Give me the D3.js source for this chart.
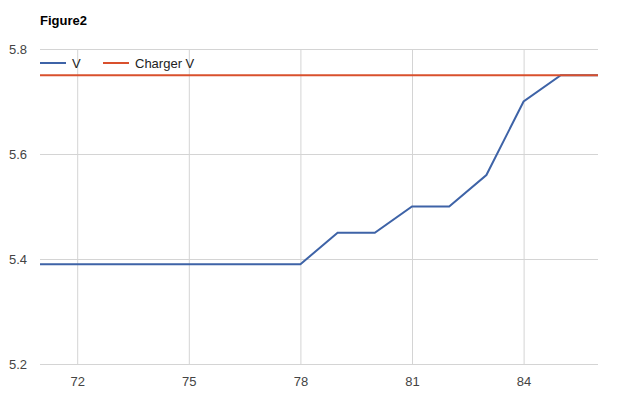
<!DOCTYPE html>
<html>
<head>
<meta charset="utf-8">
<script src="https://cdn.jsdelivr.net/npm/d3@7"></script>
<style>
  body { margin: 0; background: #fff; }
  text { font-family: Arial, "Liberation Sans", sans-serif; }
</style>
</head>
<body>
<svg width="620" height="401"></svg>
<script>
// chart data
const xs = [71, 72, 73, 74, 75, 76, 77, 78, 79, 80, 81, 82, 83, 84, 85, 86];
const vValues = [5.39, 5.39, 5.39, 5.39, 5.39, 5.39, 5.39, 5.39, 5.45, 5.45, 5.5, 5.5, 5.56, 5.7, 5.75, 5.75];
const chargerValues = [5.75, 5.75, 5.75, 5.75, 5.75, 5.75, 5.75, 5.75, 5.75, 5.75, 5.75, 5.75, 5.75, 5.75, 5.75, 5.75];
const xTicks = [72, 75, 78, 81, 84];
const yTicks = [5.2, 5.4, 5.6, 5.8];
const seriesNames = ['V', 'Charger V'];
const colors = ['#3e63a7', '#d9502d'];

const svg = d3.select('svg');
const width = +svg.attr('width');
const height = +svg.attr('height');

// margin convention
const margin = { top: 49, right: 22, bottom: 37, left: 40 };
const innerWidth = width - margin.left - margin.right;
const innerHeight = height - margin.top - margin.bottom;

const xScale = d3.scaleLinear().domain([71, 86]).range([0, innerWidth]);
const yScale = d3.scaleLinear().domain([5.2, 5.8]).range([innerHeight, 0]);

const g = svg.append('g')
  .attr('transform', `translate(${margin.left}, ${margin.top})`);

// title
svg.append('text')
  .attr('x', 40).attr('y', 25)
  .attr('font-size', 13).attr('font-weight', 'bold').attr('fill', '#000')
  .text('Figure2');

// gridlines
const yAxis = g.append('g')
  .call(d3.axisLeft(yScale).tickValues(yTicks).tickSize(-innerWidth).tickFormat(d3.format('.1f')));
yAxis.select('.domain').remove();
yAxis.selectAll('line').attr('stroke', '#d4d4d4');
yAxis.selectAll('text').attr('x', -13).attr('font-size', 13).attr('fill', '#444');

const xAxis = g.append('g')
  .attr('transform', `translate(0, ${innerHeight})`)
  .call(d3.axisBottom(xScale).tickValues(xTicks).tickSize(-innerHeight));
xAxis.select('.domain').remove();
xAxis.selectAll('line').attr('stroke', '#d4d4d4');
xAxis.selectAll('text').attr('y', 13).attr('font-size', 13).attr('fill', '#444');

// lines
const line = vals => d3.line()
  .x((d, i) => xScale(xs[i]))
  .y(d => yScale(d))(vals);

g.append('path').attr('d', line(vValues))
  .attr('fill', 'none').attr('stroke', colors[0]).attr('stroke-width', 2);
g.append('path').attr('d', line(chargerValues))
  .attr('fill', 'none').attr('stroke', colors[1]).attr('stroke-width', 2);

// legend
const legendX = [40, 103];
seriesNames.forEach((name, i) => {
  const lg = svg.append('g').attr('transform', `translate(${legendX[i]}, 63)`);
  lg.append('line').attr('x1', 0).attr('x2', 26)
    .attr('stroke', colors[i]).attr('stroke-width', 2);
  lg.append('text').attr('x', 32).attr('y', 5)
    .attr('font-size', 13).attr('fill', '#222').text(name);
});
</script>
</body>
</html>
